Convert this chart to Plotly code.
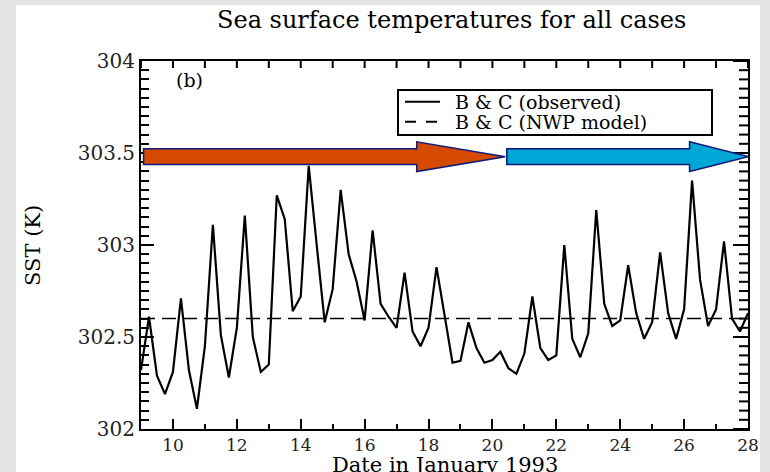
import plotly.graph_objects as go

# ---------------- data ----------------
days = [9.0, 9.25, 9.5, 9.75, 10.0, 10.25, 10.5, 10.75, 11.0, 11.25, 11.5, 11.75,
        12.0, 12.25, 12.5, 12.75, 13.0, 13.25, 13.5, 13.75, 14.0, 14.25, 14.5, 14.75,
        15.0, 15.25, 15.5, 15.75, 16.0, 16.25, 16.5, 16.75, 17.0, 17.25, 17.5, 17.75,
        18.0, 18.25, 18.5, 18.75, 19.0, 19.25, 19.5, 19.75, 20.0, 20.25, 20.5, 20.75,
        21.0, 21.25, 21.5, 21.75, 22.0, 22.25, 22.5, 22.75, 23.0, 23.25, 23.5, 23.75,
        24.0, 24.25, 24.5, 24.75, 25.0, 25.25, 25.5, 25.75, 26.0, 26.25, 26.5, 26.75,
        27.0, 27.25, 27.5, 27.75, 28.0]
sst_observed = [302.32, 302.61, 302.29, 302.19, 302.31, 302.71, 302.32, 302.11, 302.45, 303.11, 302.51, 302.28,
                302.55, 303.16, 302.50, 302.31, 302.35, 303.27, 303.14, 302.64, 302.72, 303.43, 303.00, 302.58,
                302.76, 303.30, 302.95, 302.80, 302.59, 303.08, 302.68, 302.61, 302.55, 302.85, 302.53, 302.45,
                302.55, 302.88, 302.62, 302.36, 302.37, 302.58, 302.44, 302.36, 302.375, 302.42, 302.33, 302.30,
                302.41, 302.72, 302.44, 302.375, 302.40, 303.00, 302.49, 302.39, 302.52, 303.19, 302.68, 302.56,
                302.59, 302.89, 302.63, 302.49, 302.58, 302.96, 302.63, 302.49, 302.65, 303.35, 302.81, 302.56,
                302.65, 303.02, 302.60, 302.53, 302.63]
nwp_days = [9.0, 28.0]
sst_nwp = [302.60, 302.60]

series_names = ["B & C (observed)", "B & C (NWP model)"]

x_major_ticks = [10, 12, 14, 16, 18, 20, 22, 24, 26, 28]
x_minor_ticks = [9, 11, 13, 15, 17, 19, 21, 23, 25, 27]
y_major_ticks = [302.0, 302.5, 303.0, 303.5, 304.0]
y_minor_ticks = [round(302.0 + 0.05 * i, 2) for i in range(41) if i % 10 != 0]

X_RANGE = [9, 28]
Y_RANGE = [302, 304]

# arrows (start, head base, tip) in days; vertical geometry in K
arrow_center = 303.48
arrow_shaft_half = 0.043
arrow_head_half = 0.081
orange_arrow = (9.08, 17.63, 20.40)
blue_arrow = (20.45, 26.17, 28.02)

FONT = "DejaVu Serif"
GREY = "#e4e4e4"

PLOT_W, PLOT_H = 607, 368
dx_px = (X_RANGE[1] - X_RANGE[0]) / PLOT_W
dy_px = (Y_RANGE[1] - Y_RANGE[0]) / PLOT_H

fig = go.Figure()
fig.add_trace(go.Scatter(x=days, y=sst_observed, mode="lines", name=series_names[0],
                         line=dict(color="black", width=2.2), showlegend=False))
fig.add_trace(go.Scatter(x=nwp_days, y=sst_nwp, mode="lines", name=series_names[1],
                         line=dict(color="black", width=1.5, dash="14px,7px"), showlegend=False))

# top / right tick marks (bottom / left come from the axes themselves)
tx, ty = [], []
for xv in x_major_ticks + x_minor_ticks:
    tx += [xv, xv, None]
    ty += [Y_RANGE[1], Y_RANGE[1] - 7 * dy_px, None]
for yv in y_major_ticks + y_minor_ticks:
    rlen = 15 if yv in y_major_ticks else 9
    tx += [X_RANGE[1], X_RANGE[1] - rlen * dx_px, None]
    ty += [yv, yv, None]
fig.add_trace(go.Scatter(x=tx, y=ty, mode="lines", line=dict(color="black", width=2),
                         showlegend=False))


def arrow_path(a):
    x0, xb, xt = a
    c, s, h = arrow_center, arrow_shaft_half, arrow_head_half
    pts = [(x0, c - s), (xb, c - s), (xb, c - h), (xt, c), (xb, c + h), (xb, c + s), (x0, c + s)]
    return "M " + " L ".join(f"{px},{py}" for px, py in pts) + " Z"


shapes = [
    # grey page frame around the white panel
    dict(type="rect", xref="paper", yref="paper", x0=-0.26, x1=-0.2059, y0=-0.2, y1=1.2,
         fillcolor=GREY, line=dict(width=0), layer="above"),
    dict(type="rect", xref="paper", yref="paper", x0=1.0198, x1=1.06, y0=-0.2, y1=1.2,
         fillcolor=GREY, line=dict(width=0), layer="above"),
    dict(type="rect", xref="paper", yref="paper", x0=-0.26, x1=1.06, y0=1.1522, y1=1.2,
         fillcolor=GREY, line=dict(width=0), layer="above"),
    dict(type="path", path=arrow_path(orange_arrow), fillcolor="#D64A00",
         line=dict(color="#101a7a", width=1.5), layer="above"),
    dict(type="path", path=arrow_path(blue_arrow), fillcolor="#00A6D6",
         line=dict(color="#101a7a", width=1.5), layer="above"),
    # legend box and samples
    dict(type="rect", xref="paper", yref="paper", x0=0.4234, x1=0.9407, y0=0.799, y1=0.9212,
         fillcolor="white", line=dict(color="black", width=2), layer="above"),
    dict(type="line", xref="paper", yref="paper", x0=0.4349, x1=0.4926, y0=0.8894, y1=0.8894,
         line=dict(color="black", width=2), layer="above"),
    dict(type="line", xref="paper", yref="paper", x0=0.4349, x1=0.4926, y0=0.8351, y1=0.8351,
         line=dict(color="black", width=2, dash="11px,10px"), layer="above"),
]

annotations = [
    dict(text="Sea surface temperatures for all cases", xref="paper", yref="paper",
         x=0.512, y=1.111, xanchor="center", yanchor="middle", showarrow=False,
         font=dict(family=FONT, size=24, color="black")),
    dict(text="(b)", xref="paper", yref="paper", x=0.08, y=0.948,
         xanchor="center", yanchor="middle", showarrow=False,
         font=dict(family=FONT, size=19, color="black")),
    dict(text="SST (K)", xref="paper", yref="paper", x=-0.178, y=0.5, textangle=-90,
         xanchor="center", yanchor="middle", showarrow=False,
         font=dict(family=FONT, size=21, color="black")),
    dict(text="Date in January 1993", xref="paper", yref="paper", x=0.5, y=-0.097,
         xanchor="center", yanchor="middle", showarrow=False,
         font=dict(family=FONT, size=21, color="black")),
    dict(text=series_names[0], xref="paper", yref="paper", x=0.514, y=0.8894,
         xanchor="left", yanchor="middle", showarrow=False,
         font=dict(family=FONT, size=19, color="black")),
    dict(text=series_names[1], xref="paper", yref="paper", x=0.514, y=0.8351,
         xanchor="left", yanchor="middle", showarrow=False,
         font=dict(family=FONT, size=19, color="black")),
]

fig.update_layout(
    width=770, height=472,
    margin=dict(l=141, r=22, t=61, b=43),
    paper_bgcolor="white",
    plot_bgcolor="white",
    shapes=shapes,
    annotations=annotations,
    showlegend=False,
    xaxis=dict(range=X_RANGE, tickvals=x_major_ticks,
               ticks="inside", ticklen=10, tickwidth=2, tickcolor="black",
               minor=dict(tickvals=x_minor_ticks, ticks="inside", ticklen=5, tickwidth=2,
                          tickcolor="black"),
               showline=True, linecolor="black", linewidth=2, mirror=True,
               showgrid=False, zeroline=False,
               tickfont=dict(family=FONT, size=17, color="#222")),
    yaxis=dict(range=Y_RANGE, tickvals=y_major_ticks,
               ticks="inside", ticklen=13, tickwidth=2, tickcolor="black",
               minor=dict(tickvals=y_minor_ticks, ticks="inside", ticklen=8, tickwidth=2,
                          tickcolor="black"),
               showline=True, linecolor="black", linewidth=2, mirror=True,
               showgrid=False, zeroline=False,
               tickfont=dict(family=FONT, size=20, color="#222")),
)

fig.write_html("out.html")
